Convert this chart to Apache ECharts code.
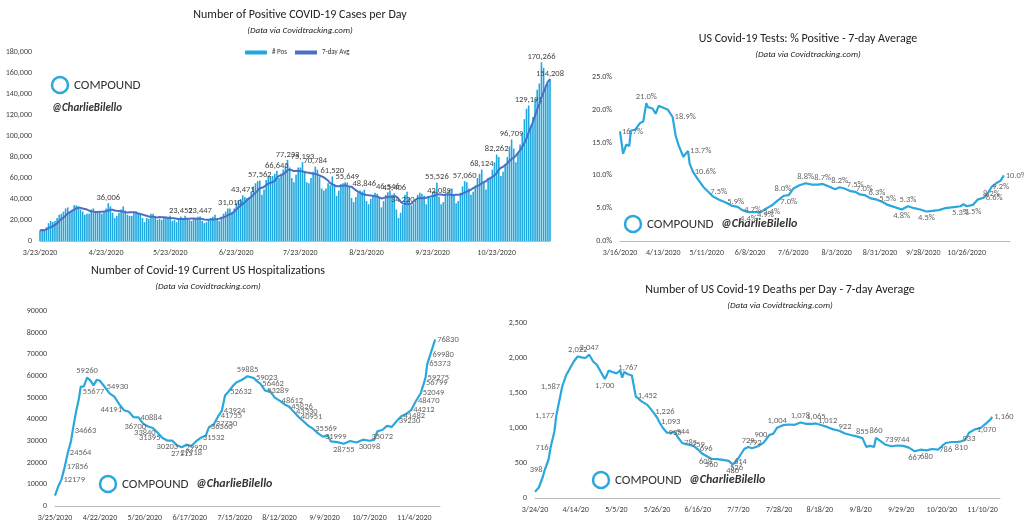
<!DOCTYPE html>
<html><head><meta charset="utf-8">
<script src="https://cdn.jsdelivr.net/npm/echarts@6/dist/echarts.min.js"></script>
<style>html,body{margin:0;background:#fff}#c{width:1024px;height:529px}</style>
</head><body><div id="c"></div>
<script>
(function() {
    var myChart = echarts.init(document.getElementById("c"));
    var FONT = "Calibri, 'Liberation Sans', 'DejaVu Sans', sans-serif";
    var BLUE = "#2aa7dd";

    // 日期工具
    function dayStr(y, m, d, add, short) {
        var t = new Date(Date.UTC(y, m - 1, d) + add * 864e5);
        return (t.getUTCMonth() + 1) + "/" + t.getUTCDate() + "/" + (short ? "20" : "2020");
    }

    // 1. 每日新增 (千), 小数的是带标签的
    var pos = [
        10,11,10,13,17,19,18, 19,22,25,26,28,31,32, 28,30,34,34,33,30,28, 25,26,26,30,31,28,27,
        27,26,28,31,36.006,33,27, 22,24,27,30,33,29,25, 24,24,27,28,26,26,22, 18,22,21,26,26,24,20,
        21,20,22,23,23,24,19, 20,18,20,23.452,22,24,21, 20,19,21,21,23,23.447,19, 17,18,21,22,23,25,20,
        19,23,26,28,31,31.010,27, 31,36,39,40,43.471,42,41, 42,47,52,55,57,57.562,44, 49,58,62,61,62,64,66.645,
        60,64,68,72,77.233,70,60, 56,63,70,70,75.193,66,56, 55,60,66,70.784,68,61,50, 48,50,55,53,61.520,54,43,
        48,54,55,56,55.649,52,41, 37,42,46,48,47,48.846,38, 35,40,44,46,45,42,32, 38,44,46.546,48,44,45.406,30,
        22,27,34.220,44,47,41,34, 36,39,44,46,45,43,35, 42,41,47,48,55.526,42.089,35, 37,45,47,49,50,44,36,
        38,46,52,57.060,56,50,44, 47,53,60,64,68.124,57,49, 60,61,68,75,82.262,80,62, 66,73,80,90,96.709,88,75,
        84,92,102,116,126,129.191,110, 118,135,144,150,170.266,165,146, 150,154.208
    ];
    var posDates = [], posData = [], avg = [];
    pos.forEach(function(v, i) {
        posDates.push(dayStr(2020, 3, 23, i));
        var n = Math.round(v * 1000);
        posData.push(n % 1000 !== 0 ? {value: n, label: {show: true}} : n);
        var s = 0, c = 0;
        for (var k = Math.max(0, i - 6); k <= i; k++) { s += pos[k] * 1000; c++; }
        avg.push(Math.round(s / c));
    });

    // 2. 阳性率 [天, %, 标签位置]
    var rate = [[0,16.7,"right"],[2,13.3],[4,14.7],[6,14.5],[7,16.8],[10,17],[13,18],[15,18.2],[17,21.0,"top"],[18,20.4],[21,20.2],[23,19.4],[25,20.6],[28,20.3],[31,20],[34,18.9,"right"],[36,16],[38,14.5],[41,12.8],[42,13.2],[44,13.7,"right"],[45,11.8],[47,10.6,"right"],[50,9.5],[54,8.2],[57,7.5,"right"],[60,6.8],[64,6.3],[68,5.9,"right"],[72,5.4],[76,5.2],[79,4.7,"right"],[83,4.4,"bottom"],[87,4.4],[91,4.4],[94,4.9,"bottom"],[98,5.4,"bottom"],[102,6.2],[106,6.9],[109,7.0,"bottom"],[112,8.0,"left"],[116,8.5],[120,8.8,"top"],[124,8.6],[128,8.6],[131,8.7,"top"],[135,8.3],[139,7.9],[142,8.2,"top"],[145,8.0],[149,7.6],[152,7.5,"top"],[155,7.1],[158,7.0,"top"],[162,6.5],[166,6.3,"top"],[170,5.9],[173,5.5,"top"],[177,5.2],[182,4.8,"bottom"],[186,5.3,"top"],[190,5.0],[194,4.8],[198,4.5,"bottom"],[202,4.6],[206,4.7],[210,5.0],[213,5.1],[217,5.2],[220,5.3,"bottom"],[222,5.6],[224,5.3],[228,5.5,"bottom"],[231,6.3],[235,6.6,"right"],[238,7.4],[240,8.2,"bottom"],[243,8.8],[246,9.2,"bottom"],[248,10.0,"right"]];

    // 3. 住院人数
    var hosp = [[0,4800],[2,9000],[4,12179,"right"],[6,17856,"right"],[8,24564,"right"],[10,30000],[11,34663,"right"],[13,43000],[15,50000],[16,55000],[18,55200],[20,59260,"top"],[22,58000],[24,55677,"bottom"],[26,58200],[28,57800],[31,54930,"right"],[34,52000],[37,50500],[40,47000],[43,44191,"left"],[46,43500],[49,41000],[52,40884,"right"],[55,38000],[58,36700,"left"],[61,36000],[64,33840,"left"],[67,31395,"left"],[70,30203,"bottom"],[73,30200],[76,28000],[79,27115,"bottom"],[82,28300],[85,27718,"bottom"],[88,29920,"bottom"],[91,31532,"right"],[94,32500],[96,36360,"right"],[99,37750,"right"],[102,41755,"right"],[104,43924,"right"],[106,51000],[108,52632,"right"],[111,55500],[113,57000],[114,57636],[116,58000],[120,59885,"top"],[124,59023,"right"],[126,57500],[128,56462,"right"],[131,53289,"right"],[134,53000],[137,50000],[140,48612,"right"],[143,47000],[146,45826,"right"],[149,43330,"right"],[152,40951,"right"],[155,39000],[158,37000],[161,35569,"right"],[164,33500],[167,31999,"right"],[170,32500],[172,29800],[176,29500],[180,28755,"bottom"],[184,30000],[188,29300],[192,30600],[196,30098,"bottom"],[199,30500],[201,34500],[204,35072,"bottom"],[207,37000],[210,36500],[213,39230,"right"],[216,41482,"right"],[219,42500],[222,44212,"right"],[225,48470,"right"],[228,52049,"right"],[230,56799,"right"],[231,59275,"right"],[232,65373,"right"],[234,69980,"right"],[235,70500],[237,76830,"right"]];

    // 4. 死亡人数 7日均值
    var death = [[0,90],[2,150],[4,300],[5,398,"left"],[7,550],[8,716,"left"],[10,950],[11,1177,"left"],[13,1450],[14,1587,"left"],[16,1750],[18,1850],[20,1950],[22,2022,"top"],[24,2010],[26,2000],[28,2047,"top"],[30,1950],[32,1900],[34,1800],[36,1700,"bottom"],[37,1752],[38,1820],[40,1800],[42,1780],[43,1760],[44,1820],[45,1720],[46,1800],[48,1767,"top"],[50,1750],[52,1452,"right"],[55,1380],[58,1330],[61,1226,"right"],[63,1150],[64,1093,"right"],[66,1000],[68,935,"right"],[70,930],[72,944,"right"],[74,860],[76,785,"right"],[78,770],[80,759,"right"],[82,740],[84,696,"right"],[86,640],[88,608,"bottom"],[91,560,"bottom"],[94,555],[97,545],[100,530],[102,480,"bottom"],[104,526,"bottom"],[106,614,"bottom"],[108,700],[110,729,"top"],[112,710],[115,740],[118,792,"left"],[121,900,"left"],[123,920],[125,1004,"top"],[128,1040],[131,1050],[134,1045],[137,1078,"top"],[140,1060],[143,1060],[145,1065,"top"],[148,1040],[151,1012,"top"],[154,980],[157,960],[160,922,"top"],[163,900],[166,880],[169,855,"top"],[171,730],[173,745],[175,730],[176,860,"top"],[178,820],[181,760],[184,739,"top"],[187,750],[190,744,"top"],[193,720],[196,667,"bottom"],[199,690],[202,680,"bottom"],[205,700],[208,690],[210,740],[212,786,"bottom"],[215,800],[218,800],[220,810,"bottom"],[222,830],[224,933,"bottom"],[227,980],[230,1000],[233,1070,"bottom"],[235,1120],[236,1160,"right"]];

    function pts(arr) {
        return arr.map(function(p) {
            return p[2] ? {value: [p[0], p[1]], label: {show: true, position: p[2]}} : [p[0], p[1]];
        });
    }

    var axisTxt = {color: "#444", fontSize: 8, fontFamily: FONT};
    var lblTxt = {show: false, color: "#666", fontSize: 8.5, fontFamily: FONT};

    function titleBlock(x, y, main) {
        return [
            {type: "text", x: x, y: y, style: {text: main, font: "12px " + FONT, fill: "#222", align: "center"}},
            {type: "text", x: x, y: y + 17, style: {text: "(Data via Covidtracking.com)", font: "italic 9px " + FONT, fill: "#222", align: "center"}}
        ];
    }
    function logo(x, y, twoLines) {
        var g = [
            {type: "circle", x: x + 8, y: y + 8, shape: {r: 8}, style: {fill: "none", stroke: BLUE, lineWidth: 2.5}},
            {type: "text", x: x + 22, y: y + 2, style: {text: "COMPOUND", font: "13px " + FONT, fill: "#333"}}
        ];
        if (twoLines) g.push({type: "text", x: x, y: y + 26, style: {text: "@CharlieBilello", font: "italic bold 11px " + FONT, fill: "#333"}});
        else g.push({type: "text", x: x + 96, y: y + 2, style: {text: "@CharlieBilello", font: "italic bold 12px " + FONT, fill: "#333"}});
        return g;
    }

    function valX(idx, max, interval, base, short) {
        return {
            type: "value", gridIndex: idx, min: 0, max: max, interval: interval,
            axisLabel: Object.assign({formatter: function(v) { return dayStr(base[0], base[1], base[2], v, short); }, showMaxLabel: false}, axisTxt),
            axisLine: {lineStyle: {color: "#bbb"}}, axisTick: {show: false}, splitLine: {show: false}
        };
    }
    function valY(idx, min, max, interval, fmt) {
        return {
            type: "value", gridIndex: idx, min: min, max: max, interval: interval,
            axisLabel: Object.assign({formatter: fmt}, axisTxt),
            axisLine: {show: false}, axisTick: {show: false}, splitLine: {show: false}
        };
    }
    function comma(v) { return v.toLocaleString("en-US"); }

    function lineSeries(ax, data, fmt) {
        return {
            type: "line", xAxisIndex: ax, yAxisIndex: ax, data: pts(data),
            symbol: "circle", symbolSize: 0.01, showSymbol: true,
            lineStyle: {color: BLUE, width: 2.2}, itemStyle: {color: BLUE},
            label: Object.assign({}, lblTxt, {distance: 2, formatter: fmt})
        };
    }

    var option = {
        animation: false,
        textStyle: {fontFamily: FONT},
        legend: {
            data: ["# Pos", {name: "7-day Avg", icon: "rect"}], top: 44, left: 240, itemWidth: 22, itemHeight: 4,
            textStyle: {fontSize: 7, color: "#333"}
        },
        graphic: [].concat(
            titleBlock(300, 9, "Number of Positive COVID-19 Cases per Day"),
            titleBlock(808, 33, "US Covid-19 Tests: % Positive - 7-day Average"),
            titleBlock(208, 265, "Number of Covid-19 Current US Hospitalizations"),
            titleBlock(780, 284, "Number of US Covid-19 Deaths per Day - 7-day Average"),
            logo(52, 77, true),
            logo(625, 216, false),
            logo(100, 476, false),
            logo(593, 472, false)
        ),
        grid: [
            {left: 40, right: 474, top: 52, bottom: 288},
            {left: 620, right: 14, top: 77, bottom: 288},
            {left: 55, right: 584, top: 311, bottom: 23},
            {left: 535, right: 24, top: 323, bottom: 31}
        ],
        xAxis: [
            {
                type: "category", gridIndex: 0, data: posDates, boundaryGap: false,
                axisLabel: Object.assign({interval: function(i, v) { return /\/23\//.test(v); }}, axisTxt),
                axisLine: {lineStyle: {color: "#bbb"}}, axisTick: {show: false}
            },
            valX(1, 252, 28, [2020, 3, 16], false),
            valX(2, 240, 28, [2020, 3, 25], false),
            valX(3, 240, 21, [2020, 3, 24], true)
        ],
        yAxis: [
            valY(0, 0, 180000, 20000, comma),
            valY(1, 0, 25, 5, function(v) { return v.toFixed(1) + "%"; }),
            valY(2, 0, 90000, 10000, function(v) { return String(v); }),
            valY(3, 0, 2500, 500, comma)
        ],
        series: [
            {
                name: "# Pos", type: "bar", xAxisIndex: 0, yAxisIndex: 0, data: posData,
                barCategoryGap: "25%", itemStyle: {color: "#1fa8df"},
                label: {show: false, position: "top", distance: 1, formatter: function(p) { return comma(p.value); }, color: "#444", fontSize: 8.5}
            },
            {
                name: "7-day Avg", type: "line", xAxisIndex: 0, yAxisIndex: 0, data: avg,
                showSymbol: false, lineStyle: {color: "#4a6fc4", width: 2}, itemStyle: {color: "#4a6fc4"}
            },
            lineSeries(1, rate, function(p) { return p.value[1].toFixed(1) + "%"; }),
            lineSeries(2, hosp, function(p) { return p.value[1]; }),
            lineSeries(3, death, function(p) { return comma(p.value[1]); })
        ]
    };
    myChart.setOption(option);
})();
</script>
</body></html>
